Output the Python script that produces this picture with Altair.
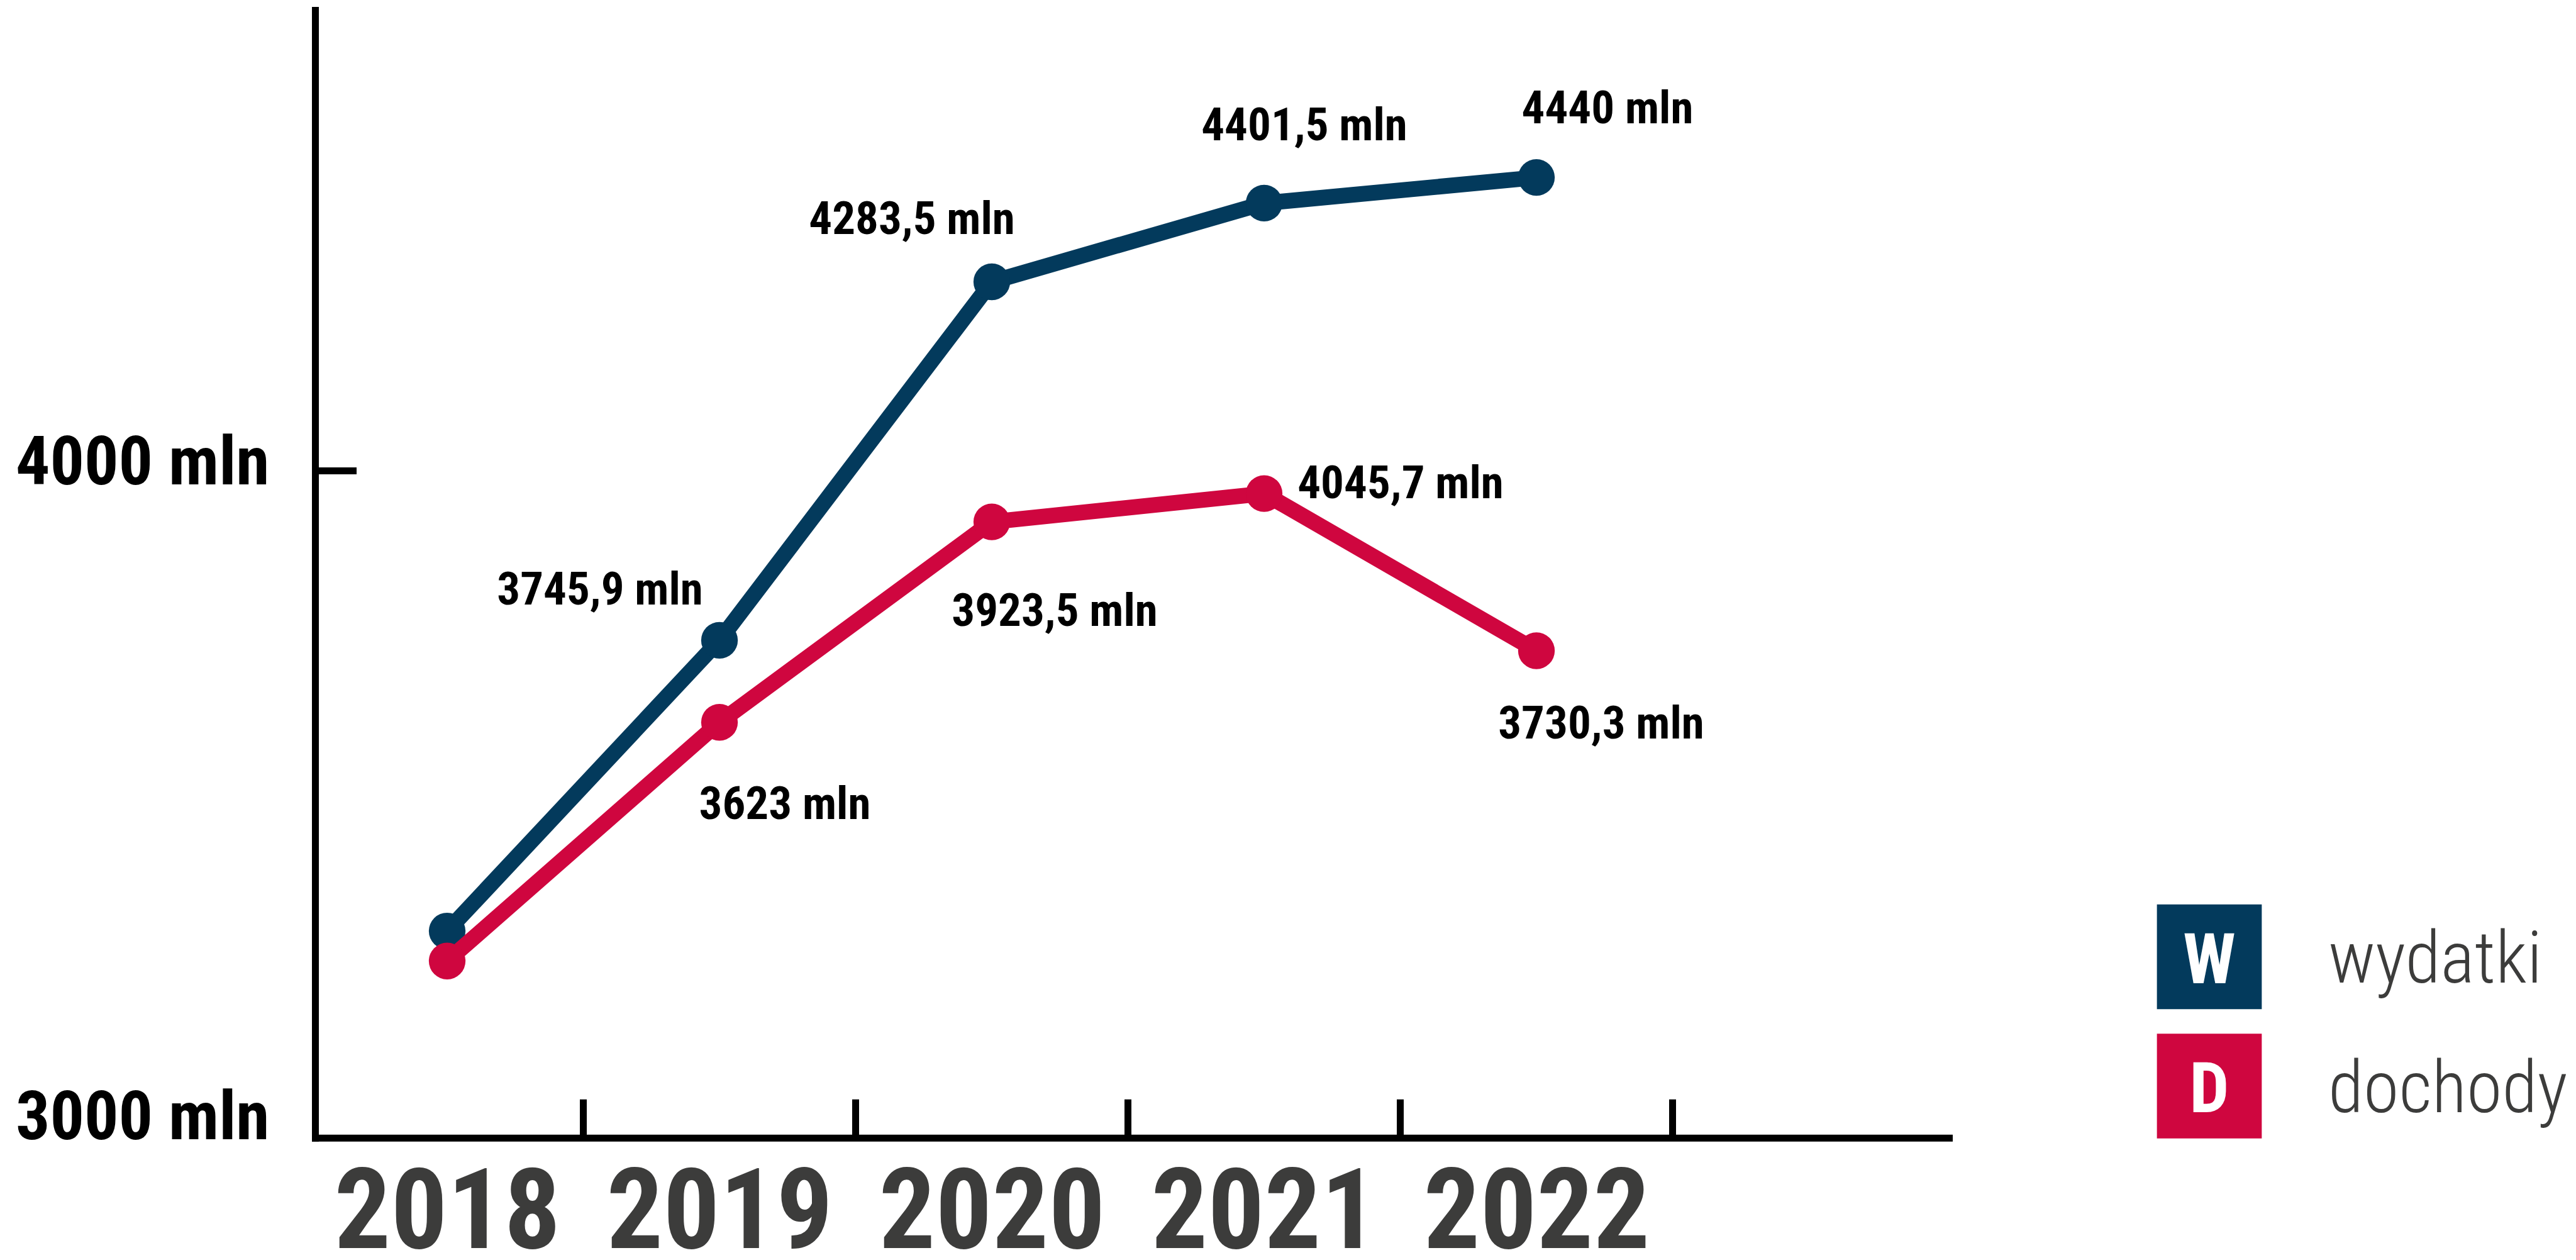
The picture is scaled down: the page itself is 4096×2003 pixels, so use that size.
import altair as alt
import pandas as pd

# ---------------- data ----------------
years = [2018, 2019, 2020, 2021, 2022]
wydatki = [3310, 3745.9, 4283.5, 4401.5, 4440]
# 2021 "dochody" point is drawn below the 4000 line in the reference
dochody = [3265, 3623, 3923.5, 3966, 3730.3]
wydatki_labels = ["", "3745,9 mln", "4283,5 mln", "4401,5 mln", "4440 mln"]
dochody_labels = ["", "3623 mln", "3923,5 mln", "4045,7 mln", "3730,3 mln"]
series_names = ["wydatki", "dochody"]
series_letters = ["W", "D"]
y_tick_values = [3000, 4000]
x_tick_values = [2018.5, 2019.5, 2020.5, 2021.5, 2022.5]

# ---------------- styles ----------------
BLUE = "#033a5c"
RED = "#cf063f"
GRAY = "#3c3c3b"
FONT = "Roboto Condensed, Roboto, sans-serif"
W = 2598
H = 1792.7
X_DOMAIN = [2017.515, 2023.515]
Y_DOMAIN = [3000, 4691]
LINE_W = 25
DOT_SIZE = 3400
AXIS_W = 11
LABEL_SIZE = 73

wyd_dx = [0, -190, -127, 64, 113]
wyd_dy = [0, -57, -76, -100, -86]
doc_dx = [0, 104, 100, 217, 103]
doc_dy = [0, 154, 165, 7.5, 140]

LEG_X = 3012
LEG_Y0 = 1505
LEG_GAP = 205.5
LEG_SQ = 27789
LEG_TEXT_X = 3201

xscale = alt.Scale(domain=X_DOMAIN, nice=False, zero=False)
yscale = alt.Scale(domain=Y_DOMAIN, nice=False, zero=False)

xaxis = alt.Axis(values=years, format="d", ticks=False, tickSize=0, grid=False,
                 domain=True, domainColor="#000000", domainWidth=AXIS_W, domainCap="square",
                 labelFont=FONT, labelFontWeight="bold", labelFontSize=178, labelColor=GRAY,
                 labelPadding=175, labelBaseline="alphabetic", labelAlign="center",
                 labelLimit=0, labelFlush=False, labelOverlap=False, title=None)
yaxis = alt.Axis(values=y_tick_values, labelExpr="datum.value + ' mln'", ticks=False, tickSize=0,
                 grid=False, domain=True, domainColor="#000000", domainWidth=AXIS_W,
                 domainCap="square", labelFont=FONT, labelFontWeight="bold", labelFontSize=108,
                 labelColor="#000000", labelPadding=73, labelAlign="right", labelLimit=0,
                 labelBaseline="alphabetic", labelOffset={"expr": "datum.value == 4000 ? 21 : 2"},
                 labelFlush=False, labelOverlap=False, title=None)


def X(field):
    return alt.X(f"{field}:Q", scale=xscale, axis=xaxis)


def Y(field):
    return alt.Y(f"{field}:Q", scale=yscale, axis=yaxis)


wdf = pd.DataFrame({"year": years, "value": wydatki, "label": wydatki_labels})
ddf = pd.DataFrame({"year": years, "value": dochody, "label": dochody_labels})

layers = []
for df, col in [(wdf, BLUE), (ddf, RED)]:
    layers.append(alt.Chart(df).mark_line(color=col, strokeWidth=LINE_W, strokeCap="round",
                                          strokeJoin="round").encode(x=X("year"), y=Y("value")))
    layers.append(alt.Chart(df).mark_circle(color=col, size=DOT_SIZE, opacity=1).encode(
        x=X("year"), y=Y("value")))

for df, dxs, dys in [(wdf, wyd_dx, wyd_dy), (ddf, doc_dx, doc_dy)]:
    for i in range(len(df)):
        if not df["label"].iloc[i]:
            continue
        layers.append(alt.Chart(df.iloc[[i]]).mark_text(
            dx=dxs[i], dy=dys[i], align="center", baseline="alphabetic", font=FONT,
            fontWeight="bold", fontSize=LABEL_SIZE, color="#000000").encode(
            x=X("year"), y=Y("value"), text="label:N"))

xt = pd.DataFrame({"tick": x_tick_values})
layers.append(alt.Chart(xt).mark_rule(color="#000000", strokeWidth=AXIS_W, strokeCap="butt").encode(
    x=X("tick"), y=alt.value(H - 61), y2=alt.value(H)))

yt = pd.DataFrame({"tick": [v for v in y_tick_values if v > Y_DOMAIN[0]]})
layers.append(alt.Chart(yt).mark_rule(color="#000000", strokeWidth=AXIS_W, strokeCap="butt").encode(
    y=Y("tick"), x=alt.value(0), x2=alt.value(66)))

for i, (name, letter, col) in enumerate(zip(series_names, series_letters, [BLUE, RED])):
    py = LEG_Y0 + i * LEG_GAP
    ldf = pd.DataFrame({"series": [name], "letter": [letter]})
    layers.append(alt.Chart(ldf).mark_square(color=col, size=LEG_SQ, opacity=1).encode(
        x=alt.value(LEG_X), y=alt.value(py)))
    layers.append(alt.Chart(ldf).mark_text(align="center", baseline="alphabetic", dy=42, font=FONT,
                                           fontWeight="bold", fontSize=112, color="#ffffff").encode(
        x=alt.value(LEG_X), y=alt.value(py), text="letter:N"))
    layers.append(alt.Chart(ldf).mark_text(align="left", baseline="alphabetic", dy=41.5, font=FONT,
                                           fontWeight=300, fontSize=115, color=GRAY).encode(
        x=alt.value(LEG_TEXT_X), y=alt.value(py), text="series:N"))

chart = alt.layer(*layers).properties(
    width=W, height=H,
    background="#ffffff",
    autosize=alt.AutoSizeParams(type="none"),
    padding={"left": 493, "top": 8, "right": 986, "bottom": 180},
).configure_view(strokeWidth=0)

chart.save("out.html", embed_options={"renderer": "svg", "actions": False})
